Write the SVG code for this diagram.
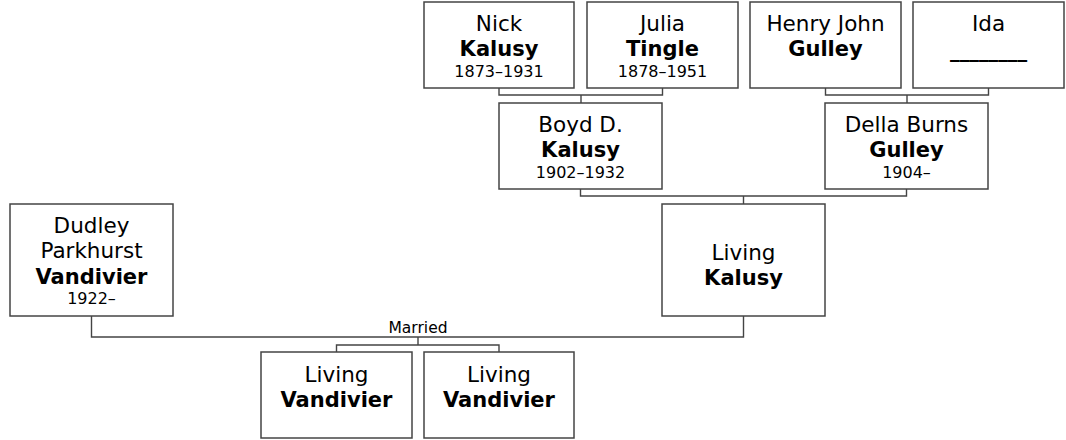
<svg xmlns="http://www.w3.org/2000/svg" width="1066" height="440" viewBox="0 0 1066 440">
<style>
.box{fill:#fff;stroke:#444;stroke-width:1.5}
.con{fill:none;stroke:#444;stroke-width:1.4}
text{font-family:"DejaVu Sans",Verdana,sans-serif;fill:#000;text-anchor:middle}
.n{font-size:21.5px}
.b{font-size:21px;font-weight:bold}
.d{font-size:16px}
.m{font-size:15.5px}
</style>
<rect width="1066" height="440" fill="#fff"/>
<g id="connectors">
<path class="con" d="M499,88V95H662.5V88M581,95V103"/>
<path class="con" d="M825.5,88V95H988.5V88M907,95V103"/>
<path class="con" d="M580.5,189V196H906.5V189M743.5,196V204"/>
<path class="con" d="M91.5,316V337H743.5V316M418,337V345M336.5,352V345H499V352"/>
<text class="m" x="418" y="333">Married</text>
</g>
<g id="nick">
<rect class="box" x="424" y="2" width="150" height="86"/>
<text class="n" x="499" y="31">Nick</text>
<text class="b" x="499" y="56">Kalusy</text>
<text class="d" x="499" y="77">1873–1931</text>
</g>
<g id="julia">
<rect class="box" x="587" y="2" width="151" height="86"/>
<text class="n" x="662.5" y="31">Julia</text>
<text class="b" x="662.5" y="56">Tingle</text>
<text class="d" x="662.5" y="77">1878–1951</text>
</g>
<g id="henry">
<rect class="box" x="750" y="2" width="151" height="86"/>
<text class="n" x="825.5" y="31">Henry John</text>
<text class="b" x="825.5" y="56">Gulley</text>
</g>
<g id="ida">
<rect class="box" x="913" y="2" width="151" height="86"/>
<text class="n" x="988.5" y="31">Ida</text>
<text class="b" x="988.5" y="57" textLength="77" lengthAdjust="spacingAndGlyphs">________</text>
</g>
<g id="boyd">
<rect class="box" x="499" y="103" width="163" height="86"/>
<text class="n" x="580.5" y="132">Boyd D.</text>
<text class="b" x="580.5" y="157">Kalusy</text>
<text class="d" x="580.5" y="178">1902–1932</text>
</g>
<g id="della">
<rect class="box" x="825" y="103" width="163" height="86"/>
<text class="n" x="906.5" y="132">Della Burns</text>
<text class="b" x="906.5" y="157">Gulley</text>
<text class="d" x="906.5" y="178">1904–</text>
</g>
<g id="living-kalusy">
<rect class="box" x="662" y="204" width="163" height="112"/>
<text class="n" x="743.5" y="260">Living</text>
<text class="b" x="743.5" y="285">Kalusy</text>
</g>
<g id="dudley">
<rect class="box" x="10" y="204" width="163" height="112"/>
<text class="n" x="91.5" y="233">Dudley</text>
<text class="n" x="91.5" y="258">Parkhurst</text>
<text class="b" x="91.5" y="284">Vandivier</text>
<text class="d" x="91.5" y="304">1922–</text>
</g>
<g id="child1">
<rect class="box" x="261" y="352" width="151" height="86"/>
<text class="n" x="336.5" y="382">Living</text>
<text class="b" x="336.5" y="407">Vandivier</text>
</g>
<g id="child2">
<rect class="box" x="424" y="352" width="150" height="86"/>
<text class="n" x="499" y="382">Living</text>
<text class="b" x="499" y="407">Vandivier</text>
</g>
</svg>
